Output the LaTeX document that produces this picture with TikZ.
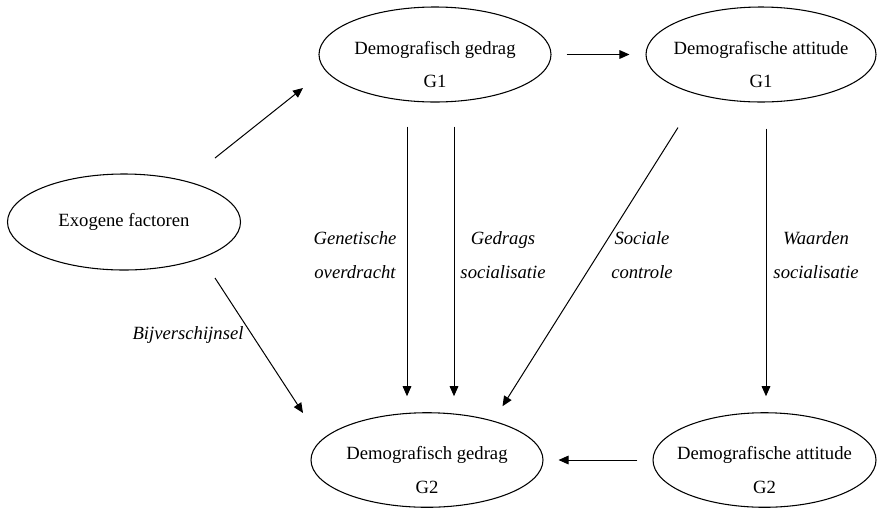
\documentclass[tikz,border=0pt]{standalone}
\usepackage{fontspec}
\setmainfont{Liberation Serif}
\usepackage{tikz}
\usetikzlibrary{shapes.geometric,arrows.meta}
\newcommand{\diagfont}{\fontsize{14pt}{25pt}\selectfont}
\newcommand{\twoline}[2]{\rule{0pt}{25pt}#1\\#2}

\tikzset{
    oval/.style={ellipse,draw,line width=0.8pt,inner xsep=-20pt,inner ysep=0pt,align=center,font=\diagfont},
    lbl/.style={align=center,inner sep=0pt,font=\diagfont\itshape},
    link/.style={->,line width=0.75pt},
    >={Triangle[length=7.5pt,width=6.5pt]}
}

\begin{document}
\begin{tikzpicture}[x=0.75pt,y=-0.75pt]
    \useasboundingbox (0,0) rectangle (877,508);

    \node[oval,minimum width=174.75pt,minimum height=72pt] (exo) at (124,222) {Exogene factoren};
    \node[oval,minimum width=174pt,minimum height=71.25pt] (gedragG1) at (435,54.5) {\twoline{Demografisch gedrag}{G1}};
    \node[oval,minimum width=172.5pt,minimum height=71.25pt] (attitudeG1) at (761,54.5) {\twoline{Demografische attitude}{G1}};
    \node[oval,minimum width=174pt,minimum height=70.5pt] (gedragG2) at (427,460) {\twoline{Demografisch gedrag}{G2}};
    \node[oval,minimum width=167.25pt,minimum height=70.5pt] (attitudeG2) at (764.5,460) {\twoline{Demografische attitude}{G2}};

    \draw[link] ([shift={(91,-64)}]exo.center) -- ([shift={(-132,33.5)}]gedragG1.center);
    \draw[link] ([shift={(91,56)}]exo.center) -- ([shift={(-124,-47)}]gedragG2.center);
    \draw[link,shorten <=11.25pt,shorten >=12pt] (gedragG1.east) -- (attitudeG1.west);
    \draw[link] ([shift={(-28,24)}]gedragG1.south) -- ([shift={(-20,-16)}]gedragG2.north);
    \draw[link] ([shift={(19,24)}]gedragG1.south) -- ([shift={(27,-16)}]gedragG2.north);
    \draw[link] ([shift={(-83,25)}]attitudeG1.south) -- ([shift={(75.5,-6)}]gedragG2.north);
    \draw[link] ([shift={(5,26)}]attitudeG1.south) -- ([shift={(1.5,-16)}]attitudeG2.north);
    \draw[link,shorten <=11.25pt,shorten >=11.25pt] (attitudeG2.west) -- (gedragG2.east);

    \node[lbl] (genetisch) at (355,255) {Genetische\\overdracht};
    \node[lbl] (gedragsoc) at (503,255) {Gedrags\\socialisatie};
    \node[lbl] (sociaal) at (642,255) {Sociale\\controle};
    \node[lbl] (waarden) at (816,255) {Waarden\\socialisatie};
    \node[lbl] (bijversch) at (188,335) {Bijverschijnsel};
\end{tikzpicture}
\end{document}
